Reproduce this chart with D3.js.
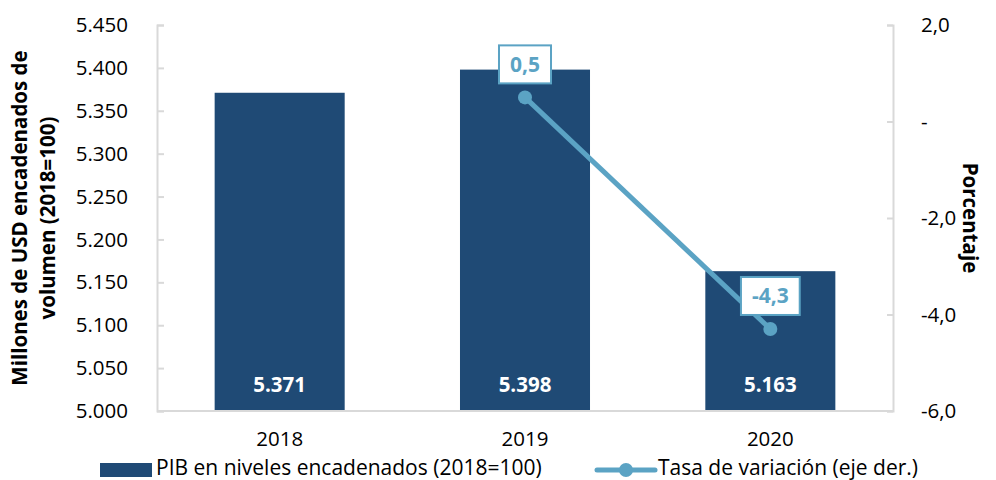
<!DOCTYPE html>
<html><head><meta charset="utf-8">
<script src="https://cdn.jsdelivr.net/npm/d3@7"></script>
<style>body{margin:0;background:#fff}svg{display:block}text{font-family:"Open Sans",sans-serif}</style>
</head><body><svg id="c" width="996" height="480"></svg>
<script>
const categories = ["2018","2019","2020"];
const pibValues = [5371, 5398, 5163];
const pibLabels = ["5.371","5.398","5.163"];
const tasaCategories = ["2019","2020"];
const tasaValues = [0.5, -4.3];
const tasaLabels = ["0,5","-4,3"];
const leftTicks = [5000,5050,5100,5150,5200,5250,5300,5350,5400,5450];
const leftTickLabels = ["5.000","5.050","5.100","5.150","5.200","5.250","5.300","5.350","5.400","5.450"];
const rightTicks = [2,0,-2,-4,-6];
const rightTickLabels = ["2,0","-","-2,0","-4,0","-6,0"];
const legendLabels = ["PIB en niveles encadenados (2018=100)","Tasa de variación (eje der.)"];
const yTitleLines = ["Millones de USD encadenados de","volumen (2018=100)"];
const y2Title = "Porcentaje";

const barColor = "#1f4a75", lineColor = "#5ba3c4", axisColor = "#d9d9d9";
const L = 157, R = 893, T = 25, B = 411;
const FS = 20.5;
const svg = d3.select("#c");

const x = d3.scaleBand().domain(categories).range([L, R]).paddingInner(0.47).paddingOuter(0.235);
const y = d3.scaleLinear().domain([5000, 5450]).range([B, T]);
const y2 = d3.scaleLinear().domain([-6, 2]).range([B, T]);

// bars
svg.selectAll("rect.bar").data(categories).join("rect").attr("class","bar")
  .attr("x", d => x(d)).attr("width", x.bandwidth())
  .attr("y", (d,i) => y(pibValues[i])).attr("height", (d,i) => B - y(pibValues[i]))
  .attr("fill", barColor);
svg.selectAll("text.barlab").data(categories).join("text").attr("class","barlab")
  .attr("x", d => x(d) + x.bandwidth()/2).attr("y", B - 19)
  .attr("text-anchor","middle").attr("fill","#fff").attr("font-weight","bold").attr("font-size", 20.5)
  .text((d,i) => pibLabels[i]);

// axes
const gl = svg.append("g").attr("transform", `translate(${L},0)`)
  .call(d3.axisLeft(y).tickValues(leftTicks).tickSize(-7).tickPadding(29).tickFormat((d,i) => leftTickLabels[i]));
const gr = svg.append("g").attr("transform", `translate(${R},0)`)
  .call(d3.axisRight(y2).tickValues(rightTicks).tickSize(-6).tickPadding(28).tickFormat((d,i) => rightTickLabels[i]));
gr.selectAll(".tick text").attr("text-anchor","start").attr("x", 28);
const gb = svg.append("g").attr("transform", `translate(0,${B})`)
  .call(d3.axisBottom(x).tickSize(0).tickPadding(20));
[gl, gr, gb].forEach(g => {
  g.select(".domain").attr("stroke", axisColor).attr("stroke-width", 2);
  g.selectAll(".tick line").attr("stroke", axisColor).attr("stroke-width", 2);
  g.selectAll(".tick text").attr("font-size", FS).attr("fill","#000").attr("font-family","'Open Sans',sans-serif");
});
gb.select(".domain").attr("d", `M${L},0H${R}`);

// line
const line = d3.line().x((d,i) => x(tasaCategories[i]) + x.bandwidth()/2).y(d => y2(d));
svg.append("path").datum(tasaValues).attr("d", line).attr("fill","none")
  .attr("stroke", lineColor).attr("stroke-width", 5);
svg.selectAll("circle.pt").data(tasaValues).join("circle").attr("class","pt")
  .attr("cx", (d,i) => x(tasaCategories[i]) + x.bandwidth()/2).attr("cy", d => y2(d))
  .attr("r", 7).attr("fill", lineColor);

// data labels in boxes
tasaValues.forEach((v,i) => {
  const cx = x(tasaCategories[i]) + x.bandwidth()/2, cy = y2(v) - 33;
  const g = svg.append("g");
  const rect = g.append("rect");
  const t = g.append("text").attr("x", cx).attr("y", cy + 7.5).attr("text-anchor","middle")
    .attr("font-weight","bold").attr("font-size", 21).attr("fill", lineColor).text(tasaLabels[i]);
  const w = t.node().getBBox().width + 22;
  rect.attr("x", cx - w/2).attr("y", cy - 19).attr("width", w).attr("height", 38)
    .attr("fill","#fff").attr("stroke", lineColor).attr("stroke-width", 2);
});

// axis titles
const yt = svg.append("text").attr("transform","translate(0,218) rotate(-90)")
  .attr("text-anchor","middle").attr("font-weight","bold").attr("font-size", 20.5);
yTitleLines.forEach((s,i) => yt.append("tspan").attr("x",0).attr("y", 27 + i*28).text(s));
svg.append("text").attr("transform","translate(963,218) rotate(90)")
  .attr("text-anchor","middle").attr("font-weight","bold").attr("font-size", 20.5).text(y2Title);

// legend
svg.append("rect").attr("x",100).attr("y",463).attr("width",52).attr("height",14).attr("fill",barColor);
svg.append("text").attr("x",156).attr("y",475).attr("font-size",21).text(legendLabels[0]);
svg.append("line").attr("x1",597).attr("x2",655).attr("y1",470).attr("y2",470)
  .attr("stroke",lineColor).attr("stroke-width",5).attr("stroke-linecap","round");
svg.append("circle").attr("cx",626).attr("cy",470).attr("r",7).attr("fill",lineColor);
svg.append("text").attr("x",658).attr("y",475).attr("font-size",21).text(legendLabels[1]);
</script></body></html>
